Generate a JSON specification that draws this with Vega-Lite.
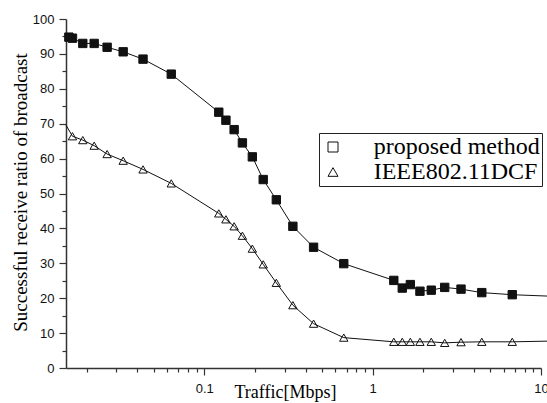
{
  "$schema": "https://vega.github.io/schema/vega-lite/v6.json",
  "width": 475,
  "height": 349,
  "autosize": {"type": "none"},
  "padding": {"left": 66, "top": 19, "right": 6, "bottom": 35},
  "background": "white",
  "config": {
    "view": {"stroke": null},
    "axis": {"grid": false, "domainColor": "#333", "domainWidth": 1.5, "tickColor": "#333", "tickWidth": 1.2, "labelColor": "#111", "labelFont": "Liberation Sans", "labelFontSize": 13, "titleColor": "#000", "titleFont": "Liberation Serif", "titleFontWeight": "normal"}
  },
  "data": {"values": [
    {"series": "proposed method", "x": 0.0157, "y": 94.8},
    {"series": "proposed method", "x": 0.0165, "y": 94.5},
    {"series": "proposed method", "x": 0.019, "y": 93.0},
    {"series": "proposed method", "x": 0.0222, "y": 93.0},
    {"series": "proposed method", "x": 0.0265, "y": 91.9},
    {"series": "proposed method", "x": 0.033, "y": 90.6},
    {"series": "proposed method", "x": 0.0433, "y": 88.5},
    {"series": "proposed method", "x": 0.0637, "y": 84.2},
    {"series": "proposed method", "x": 0.122, "y": 73.3},
    {"series": "proposed method", "x": 0.1345, "y": 71.0},
    {"series": "proposed method", "x": 0.1505, "y": 68.3},
    {"series": "proposed method", "x": 0.1685, "y": 64.5},
    {"series": "proposed method", "x": 0.193, "y": 60.5},
    {"series": "proposed method", "x": 0.224, "y": 54.0},
    {"series": "proposed method", "x": 0.268, "y": 48.2},
    {"series": "proposed method", "x": 0.336, "y": 40.6},
    {"series": "proposed method", "x": 0.446, "y": 34.6},
    {"series": "proposed method", "x": 0.674, "y": 29.9},
    {"series": "proposed method", "x": 1.336, "y": 25.1},
    {"series": "proposed method", "x": 1.5, "y": 22.9},
    {"series": "proposed method", "x": 1.675, "y": 23.9},
    {"series": "proposed method", "x": 1.91, "y": 22.0},
    {"series": "proposed method", "x": 2.23, "y": 22.3},
    {"series": "proposed method", "x": 2.68, "y": 23.1},
    {"series": "proposed method", "x": 3.35, "y": 22.6},
    {"series": "proposed method", "x": 4.45, "y": 21.6},
    {"series": "proposed method", "x": 6.75, "y": 21.0},
    {"series": "proposed method", "x": 11, "y": 20.6},
    {"series": "IEEE802.11DCF", "x": 0.0151, "y": 69.6},
    {"series": "IEEE802.11DCF", "x": 0.0165, "y": 66.4},
    {"series": "IEEE802.11DCF", "x": 0.019, "y": 65.3},
    {"series": "IEEE802.11DCF", "x": 0.0222, "y": 63.7},
    {"series": "IEEE802.11DCF", "x": 0.0265, "y": 61.3},
    {"series": "IEEE802.11DCF", "x": 0.033, "y": 59.4},
    {"series": "IEEE802.11DCF", "x": 0.0433, "y": 56.9},
    {"series": "IEEE802.11DCF", "x": 0.0637, "y": 52.9},
    {"series": "IEEE802.11DCF", "x": 0.122, "y": 44.3},
    {"series": "IEEE802.11DCF", "x": 0.1345, "y": 42.6},
    {"series": "IEEE802.11DCF", "x": 0.1505, "y": 40.6},
    {"series": "IEEE802.11DCF", "x": 0.1685, "y": 37.9},
    {"series": "IEEE802.11DCF", "x": 0.193, "y": 34.2},
    {"series": "IEEE802.11DCF", "x": 0.224, "y": 29.7},
    {"series": "IEEE802.11DCF", "x": 0.268, "y": 24.4},
    {"series": "IEEE802.11DCF", "x": 0.336, "y": 18.0},
    {"series": "IEEE802.11DCF", "x": 0.446, "y": 12.7},
    {"series": "IEEE802.11DCF", "x": 0.674, "y": 8.7},
    {"series": "IEEE802.11DCF", "x": 1.336, "y": 7.5},
    {"series": "IEEE802.11DCF", "x": 1.5, "y": 7.5},
    {"series": "IEEE802.11DCF", "x": 1.675, "y": 7.5},
    {"series": "IEEE802.11DCF", "x": 1.91, "y": 7.5},
    {"series": "IEEE802.11DCF", "x": 2.23, "y": 7.5},
    {"series": "IEEE802.11DCF", "x": 2.68, "y": 7.2},
    {"series": "IEEE802.11DCF", "x": 3.35, "y": 7.4},
    {"series": "IEEE802.11DCF", "x": 4.45, "y": 7.5},
    {"series": "IEEE802.11DCF", "x": 6.75, "y": 7.5},
    {"series": "IEEE802.11DCF", "x": 11, "y": 7.7}
  ]},
  "resolve": {"axis": {"x": "independent", "y": "independent"}},
  "layer": [
    {
      "transform": [{"filter": "datum.x > 0.0152 && datum.x < 10"}],
      "mark": {"type": "point", "filled": false, "stroke": "#111", "strokeWidth": 1, "opacity": 1, "size": 70},
      "encoding": {
        "x": {"field": "x", "type": "quantitative", "scale": {"type": "log", "domain": [0.0151, 10], "nice": false},
          "axis": {"orient": "bottom", "values": [0.02, 0.03, 0.04, 0.05, 0.06, 0.07, 0.08, 0.09, 0.2, 0.3, 0.4, 0.5, 0.6, 0.7, 0.8, 0.9, 2, 3, 4, 5, 6, 7, 8, 9], "tickSize": 4, "labels": false, "domain": false, "title": null}},
        "y": {"field": "y", "type": "quantitative", "scale": {"domain": [0, 100], "nice": false},
          "axis": {"orient": "left", "values": [5, 15, 25, 35, 45, 55, 65, 75, 85, 95], "tickSize": 4, "labels": false, "domain": false, "title": null}},
        "shape": {"field": "series", "type": "nominal",
          "scale": {"domain": ["proposed method", "IEEE802.11DCF"], "range": ["square", "triangle-up"]},
          "legend": {"title": null, "orient": "none", "legendX": 253, "legendY": 114, "padding": 2, "strokeColor": "#222", "fillColor": "white",
            "labelFont": "Liberation Serif", "labelFontSize": 24, "labelColor": "#000", "labelOffset": 28.7, "rowPadding": 1, "labelLimit": 400,
            "symbolSize": 100, "symbolStrokeWidth": 1,
            "encode": {"symbols": {"update": {
              "shape": [{"test": "datum.value === 'proposed method'", "value": "M-0.32,0L2.5,0M4.5,0L7.34,0M2.85,-0.65L4.15,-0.65L4.15,0.65L2.85,0.65Z"}, {"value": "M-0.32,0L2.5,0M4.5,0L7.34,0M3.5,-0.6L4.2,0.55L2.8,0.55Z"}],
              "fill": [{"test": "datum.value === 'proposed method'", "value": "#111"}, {"value": "#ffffff"}],
              "stroke": {"value": "#111"},
              "strokeWidth": {"value": 1},
              "opacity": {"value": 1}
            }}}}},
        "fill": {"condition": {"test": "datum.series === 'proposed method'", "value": "#111"}, "value": "white"}
      }
    },
    {
      "mark": {"type": "line", "color": "#111", "strokeWidth": 1},
      "encoding": {
        "x": {"field": "x", "type": "quantitative",
          "axis": {"orient": "bottom", "values": [0.1, 1, 10], "format": "~g", "tickSize": 7, "labelPadding": 7, "labelFlush": false, "labelOverlap": false, "labelBound": false,
            "title": "Traffic[Mbps]", "titleFontSize": 18, "titleX": 219, "titleY": 29, "titleAlign": "center", "titleBaseline": "alphabetic", "titleAnchor": null}},
        "y": {"field": "y", "type": "quantitative",
          "axis": {"orient": "left", "values": [0, 10, 20, 30, 40, 50, 60, 70, 80, 90, 100], "tickSize": 7, "labelPadding": 5,
            "title": "Successful receive ratio of broadcast", "titleFontSize": 19, "titleX": -46, "titleY": 173, "titleAngle": 270, "titleAlign": "center", "titleBaseline": "middle", "titleAnchor": null}},
        "detail": {"field": "series"}
      }
    }
  ]
}
